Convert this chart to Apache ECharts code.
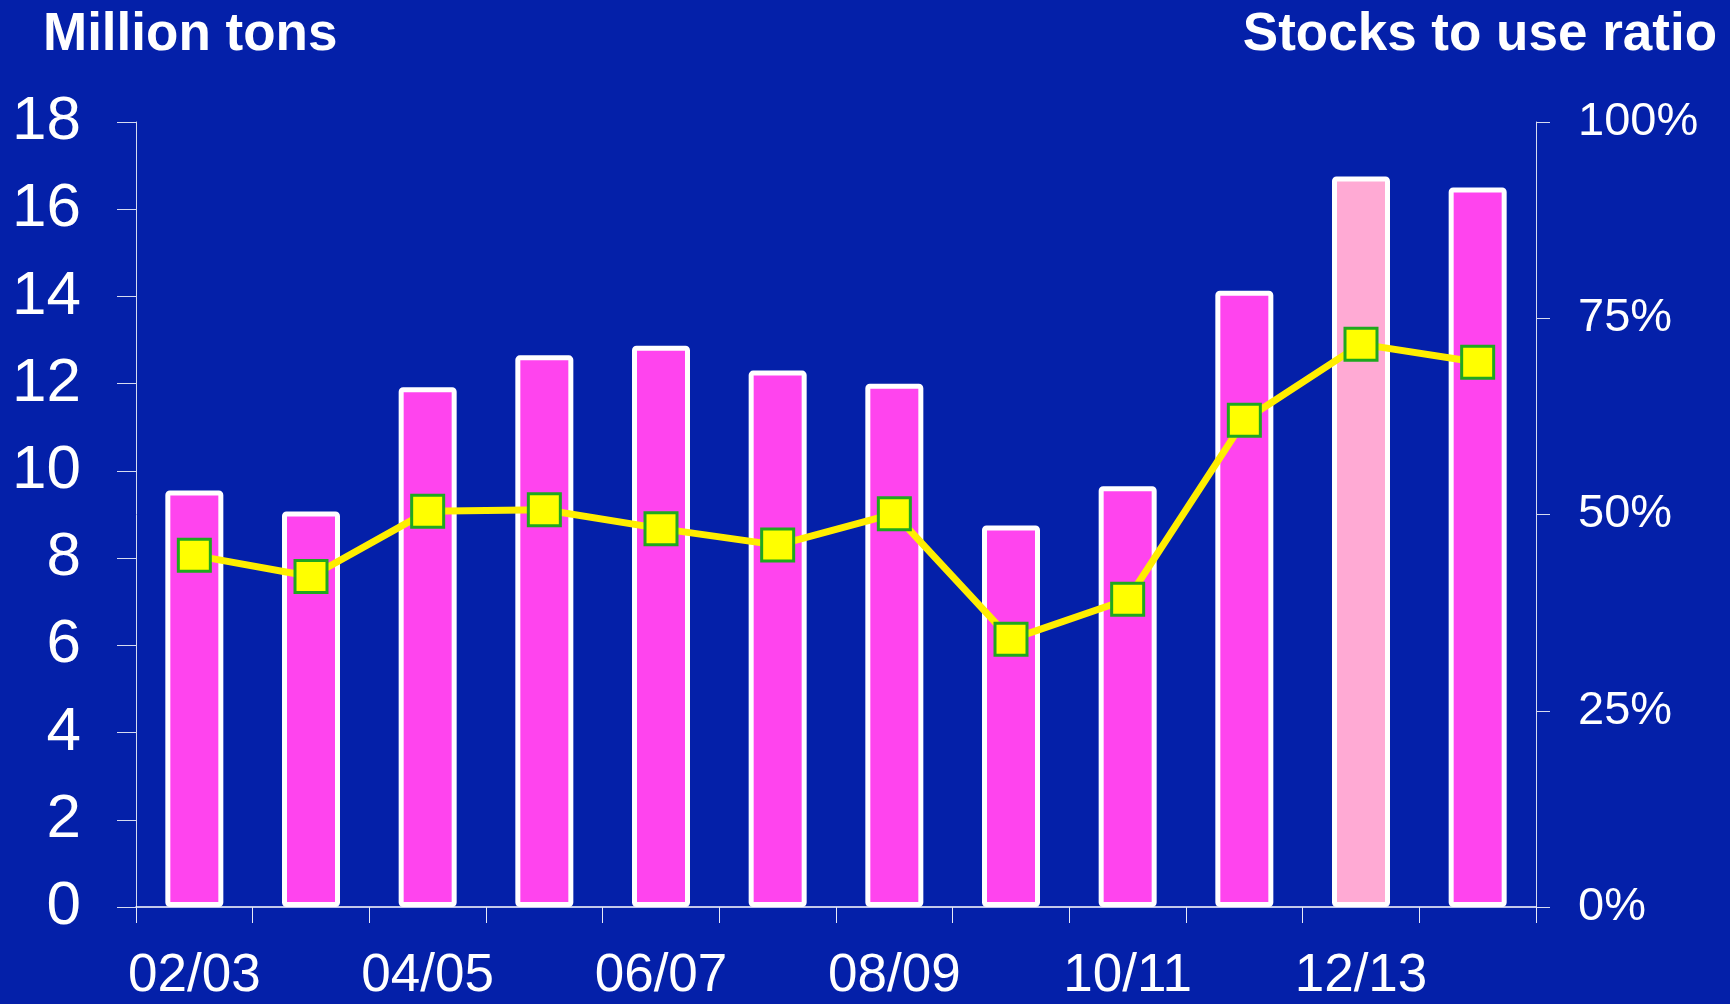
<!DOCTYPE html>
<html>
<head>
<meta charset="utf-8">
<script src="https://cdn.jsdelivr.net/npm/echarts@6/dist/echarts.min.js"></script>
<style>
  html, body { margin: 0; padding: 0; background: #0420a9; }
  #chart { width: 1730px; height: 1004px; }
</style>
</head>
<body>
<div id="chart"></div>
<script>
// crop years
const seasons = ['02/03', '03/04', '04/05', '05/06', '06/07', '07/08', '08/09', '09/10', '10/11', '11/12', '12/13', '13/14'];
// ending stocks, million tons
const stocks = [9.55, 9.07, 11.92, 12.65, 12.87, 12.3, 12.0, 8.75, 9.65, 14.13, 16.75, 16.5];
// stocks to use ratio, %
const ratio = [44.8, 42.1, 50.4, 50.6, 48.2, 46.1, 50.1, 34.1, 39.2, 62.0, 71.7, 69.4];
const leftTicks = { min: 0, max: 18, step: 2 };
const rightTicks = { min: 0, max: 100, step: 25 };
const estimateIdx = 10; // 12/13 shown in pale pink

const font = 'Liberation Sans, Arial, sans-serif';
const chart = echarts.init(document.getElementById('chart'));

chart.setOption({
  backgroundColor: '#0420a9',
  animation: false,
  title: [
    { text: 'Million tons', left: 43, top: 9, padding: 0,
      textStyle: { color: '#fff', fontSize: 53, fontWeight: 'bold', fontFamily: font } },
    { text: 'Stocks to use ratio', right: 13, top: 9, padding: 0,
      textStyle: { color: '#fff', fontSize: 53, fontWeight: 'bold', fontFamily: font } }
  ],
  grid: { left: 136, right: 194, top: 122, height: 785, containLabel: false },
  xAxis: {
    type: 'category',
    data: seasons,
    axisLine: { lineStyle: { color: '#ffffff', width: 1.5 } },
    axisTick: { show: true, interval: 0, length: 16, lineStyle: { color: '#e8eaf6', width: 1 } },
    axisLabel: { interval: 1, color: '#fff', fontSize: 53, fontFamily: font, margin: 43 }
  },
  yAxis: [
    {
      type: 'value', min: leftTicks.min, max: leftTicks.max, interval: leftTicks.step,
      axisLine: { show: true, lineStyle: { color: '#d6daf0', width: 1 } },
      axisTick: { show: true, length: 19, lineStyle: { color: '#d6daf0', width: 1 } },
      axisLabel: { color: '#fff', fontSize: 62, fontFamily: font, margin: 55 },
      splitLine: { show: false }
    },
    {
      type: 'value', min: rightTicks.min, max: rightTicks.max, interval: rightTicks.step,
      position: 'right',
      axisLine: { show: true, lineStyle: { color: '#d6daf0', width: 1 } },
      axisTick: { show: true, length: 14, lineStyle: { color: '#d6daf0', width: 1 } },
      axisLabel: { color: '#fff', fontSize: 47, fontFamily: font, margin: 42, formatter: '{value}%' },
      splitLine: { show: false }
    }
  ],
  series: [
    {
      type: 'bar',
      barWidth: 58,
      data: stocks.map((v, i) => ({
        value: v,
        itemStyle: { color: i === estimateIdx ? '#ffaad4' : '#ff44ee' }
      })),
      itemStyle: { borderColor: '#ffffff', borderWidth: 5, borderRadius: 2 }
    },
    {
      type: 'line',
      yAxisIndex: 1,
      data: ratio,
      symbol: 'rect',
      symbolSize: 32,
      z: 5,
      lineStyle: { color: '#ffee00', width: 7 },
      itemStyle: { color: '#ffff00', borderColor: '#1fa81f', borderWidth: 3 }
    }
  ]
});
</script>
</body>
</html>
